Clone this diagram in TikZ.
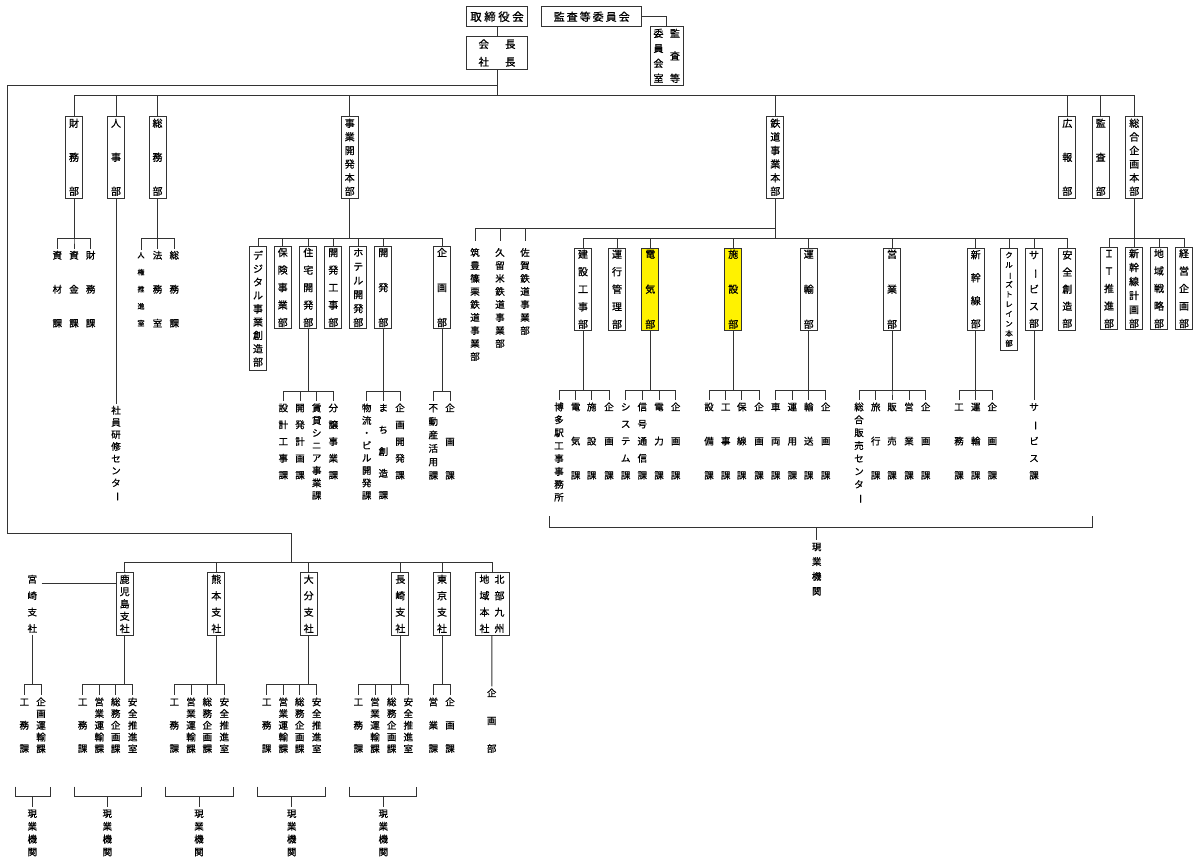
\documentclass[tikz,border=0pt]{standalone}
\usepackage{fontspec}
\setmainfont{Noto Sans CJK JP}[FakeBold=0.8]
\usepackage{graphicx}
\newcommand\vst{\rule[-0.12em]{0pt}{1em}}
\newcommand\VB{\rotatebox[origin=c]{-90}{ー}}
\def\vtloop#1{\ifx#1\relax\else\hbox to 1em{\hss\vst#1\hss}\expandafter\vtloop\fi}
\newcommand\vtx[2]{\vtop{\baselineskip=#1pt\lineskiplimit=-100pt\lineskip=0pt\vtloop#2\relax}}
\newcommand\treeln[3]{\foreach \cc in {#3}{\draw[ln] (#1.south) -- ++(0,#2) -| (\cc.north);}}
\tikzset{
 ln/.style={draw=black!80, line width=1pt},
 bx/.style={draw=black!80, line width=1pt, fill=white, inner sep=0pt, minimum width=17pt, font=\fontsize{10}{12}\selectfont},
 ybx/.style={bx, fill=yellow},
 lab/.style={inner xsep=0pt, inner ysep=1.5pt, anchor=north, font=\fontsize{9.5}{11}\selectfont},
 slab/.style={lab, font=\fontsize{7}{8}\selectfont},
}
\begin{document}
\begin{tikzpicture}[x=1pt,y=-1pt]
\useasboundingbox (0,0) rectangle (1195,857);
\fill[white] (0,0) rectangle (1195,857);
% ---- top
\node[bx, minimum width=60.6pt, minimum height=20pt, font=\fontsize{11.5}{13}\selectfont] (tori) at (497,16.7) {取\kern2.5pt 締\kern2.5pt 役\kern2.5pt 会};
\node[bx, minimum width=60.6pt, minimum height=32.6pt, align=center, font=\fontsize{10.5}{17.7}\selectfont] (kaicho) at (497,53) {会\hspace{16pt}長\\社\hspace{16pt}長};
\node[bx, minimum width=100pt, minimum height=20pt, font=\fontsize{11}{13}\selectfont] (iinkai) at (591.7,16.7) {監\kern2pt 査\kern2pt 等\kern2pt 委\kern2pt 員\kern2pt 会};
\node[bx, minimum width=33.3pt, minimum height=58.3pt] (shitsu) at (666.7,55.85) {\vtx{15}{委員会室}\hspace{6.5pt}\vtx{22.5}{監査等}};
\draw[ln] (tori) -- (kaicho);
\draw[ln] (iinkai.east) -| (shitsu.north);
% ---- level 2
\node[bx, minimum height=82.5pt] (zaimu) at (74,157.25) {\vtx{34}{財務部}};
\node[bx, minimum height=82.5pt] (jinji) at (116,157.25) {\vtx{34}{人事部}};
\node[bx, minimum height=82.5pt] (soumu) at (157.5,157.25) {\vtx{34}{総務部}};
\node[bx, minimum height=82.5pt] (jigyo) at (349.7,157.25) {\vtx{13.6}{事業開発本部}};
\node[bx, minimum height=82.5pt] (tetsu) at (775.3,157.25) {\vtx{13.6}{鉄道事業本部}};
\node[bx, minimum height=82.5pt] (kouhou) at (1067.3,157.25) {\vtx{34}{広報部}};
\node[bx, minimum height=82.5pt] (kansa) at (1100.7,157.25) {\vtx{34}{監査部}};
\node[bx, minimum height=82.5pt] (sougou) at (1134.3,157.25) {\vtx{13.6}{総合企画本部}};
\coordinate (bus) at (497,95);
\draw[ln] (kaicho) -- (bus);
\foreach \n in {zaimu,jinji,soumu,jigyo,tetsu,kouhou,kansa,sougou} \draw[ln] (bus) -| (\n.north);
% big loop to branch offices
\coordinate (loop) at (497,85);
\coordinate (loopc) at (7,533);
\coordinate (shisha) at (291,562);
\draw[ln] (loop) -| (loopc) -| (shisha);
% ---- finance / general affairs / HR
\node[lab] (shizai) at (57.3,248.75) {\vtx{34}{資材課}};
\node[lab] (shikin) at (74,248.75) {\vtx{34}{資金課}};
\node[lab] (zaimuka) at (90.7,248.75) {\vtx{34}{財務課}};
\treeln{zaimu}{39.8}{shizai,shikin,zaimuka}
\node[slab] (jinken) at (141,250) {\vtx{17}{人権推進室}};
\node[lab] (houmu) at (157.5,248.75) {\vtx{34}{法務室}};
\node[lab] (soumuka) at (174.3,248.75) {\vtx{34}{総務課}};
\treeln{soumu}{39.8}{jinken,houmu,soumuka}
\node[lab] (kenshu) at (116,403.75) {\vtx{12.1}{社員研修センタ\VB}};
\draw[ln] (jinji) -- (kenshu);
% ---- business development
\node[bx, minimum height=124pt] (digital) at (258,308.7) {\vtx{13.33}{デジタル事業創造部}};
\node[bx, minimum height=81.6pt] (hoken) at (282.7,287.5) {\vtx{17.5}{保険事業部}};
\node[bx, minimum height=81.6pt] (jutaku) at (308.3,287.5) {\vtx{17.5}{住宅開発部}};
\node[bx, minimum height=81.6pt] (kaikouji) at (333.3,287.5) {\vtx{17.5}{開発工事部}};
\node[bx, minimum height=81.6pt] (hotel) at (358.3,287.5) {\vtx{14}{ホテル開発部}};
\node[bx, minimum height=81.6pt] (kaihatsu) at (383.3,287.5) {\vtx{35}{開発部}};
\node[bx, minimum height=81.6pt] (kikakubu) at (442,287.5) {\vtx{35}{企画部}};
\treeln{jigyo}{39.5}{digital,hoken,jutaku,kaikouji,hotel,kaihatsu,kikakubu}
\node[lab] (sekkei) at (283.3,401.45) {\vtx{16.8}{設計工事課}};
\node[lab] (kkeikaku) at (300,401.45) {\vtx{16.8}{開発計画課}};
\node[lab] (chintai) at (316.7,401.45) {\vtx{12.5}{賃貸シニア事業課}};
\node[lab] (bunjo) at (333.3,401.45) {\vtx{16.8}{分譲事業課}};
\treeln{jutaku}{62.7}{sekkei,kkeikaku,chintai,bunjo}
\node[lab] (butsuryu) at (366.7,401.45) {\vtx{12.5}{物流・ビル開発課}};
\node[lab] (machi) at (383.3,401.45) {\vtx{21.8}{まち創造課}};
\node[lab] (kkaihatsu) at (400,401.45) {\vtx{16.8}{企画開発課}};
\treeln{kaihatsu}{62.7}{butsuryu,machi,kkaihatsu}
\node[lab] (fudosan) at (433.3,401.45) {\vtx{13.5}{不動産活用課}};
\node[lab] (kikakuka1) at (450,401.45) {\vtx{33.7}{企画課}};
\treeln{kikakubu}{62.7}{fudosan,kikakuka1}
% ---- railway
\node[lab, inner ysep=6.5pt] (chikuho) at (475,241) {\vtx{13}{筑豊篠栗鉄道事業部}};
\node[lab, inner ysep=6.5pt] (kurume) at (500,241) {\vtx{13}{久留米鉄道事業部}};
\node[lab, inner ysep=6.5pt] (saga) at (525,241) {\vtx{13}{佐賀鉄道事業部}};
\treeln{tetsu}{29.2}{chikuho,kurume,saga}
\node[bx, minimum height=81.7pt] (kensetsu) at (583,289.15) {\vtx{17.5}{建設工事部}};
\node[bx, minimum height=81.7pt] (unkou) at (617,289.15) {\vtx{17.5}{運行管理部}};
\node[ybx, minimum height=81.7pt] (denki) at (650.3,289.15) {\vtx{35}{電気部}};
\node[ybx, minimum height=81.7pt] (shisetsu) at (733.3,289.15) {\vtx{35}{施設部}};
\node[bx, minimum height=81.7pt] (unyu) at (808.7,289.15) {\vtx{35}{運輸部}};
\node[bx, minimum height=81.7pt] (eigyo) at (892,289.15) {\vtx{35}{営業部}};
\node[bx, minimum height=81.7pt] (shinkan) at (975.7,289.15) {\vtx{23}{新幹線部}};
\node[bx, minimum height=101.7pt, font=\fontsize{7.5}{9}\selectfont] (cruise) at (1009,299.15) {\vtx{9.8}{クル\VB ズトレイン本部}};
\node[bx, minimum height=81.7pt] (service) at (1034,289.15) {\vtx{17.1}{サ\VB ビス部}};
\node[bx, minimum height=81.7pt] (anzen) at (1067.3,289.15) {\vtx{17.1}{安全創造部}};
\treeln{tetsu}{39.2}{kensetsu,unkou,denki,shisetsu,unyu,eigyo,shinkan,cruise,service,anzen}
% railway sections
\node[lab] (hakata) at (559,400.45) {\vtx{12.9}{博多駅工事事務所}};
\node[lab] (denkika) at (575.7,400.45) {\vtx{34.2}{電気課}};
\node[lab] (shisetsuka) at (591.7,400.45) {\vtx{34.2}{施設課}};
\node[lab] (kikakuka2) at (609,400.45) {\vtx{34.2}{企画課}};
\treeln{kensetsu}{60}{hakata,denkika,shisetsuka,kikakuka2}
\node[lab] (system) at (625.7,400.45) {\vtx{17.1}{システム課}};
\node[lab] (shingou) at (642.3,400.45) {\vtx{17.1}{信号通信課}};
\node[lab] (denryoku) at (659,400.45) {\vtx{34.2}{電力課}};
\node[lab] (kikakuka3) at (675.7,400.45) {\vtx{34.2}{企画課}};
\treeln{denki}{60}{system,shingou,denryoku,kikakuka3}
\node[lab] (setsubi) at (709,400.45) {\vtx{34.2}{設備課}};
\node[lab] (koujika) at (725.7,400.45) {\vtx{34.2}{工事課}};
\node[lab] (hosen) at (741.7,400.45) {\vtx{34.2}{保線課}};
\node[lab] (kikakuka4) at (759,400.45) {\vtx{34.2}{企画課}};
\treeln{shisetsu}{60}{setsubi,koujika,hosen,kikakuka4}
\node[lab] (sharyo) at (775.7,400.45) {\vtx{34.2}{車両課}};
\node[lab] (unyo) at (792.3,400.45) {\vtx{34.2}{運用課}};
\node[lab] (yuso) at (808.7,400.45) {\vtx{34.2}{輸送課}};
\node[lab] (kikakuka5) at (825.7,400.45) {\vtx{34.2}{企画課}};
\treeln{unyu}{60}{sharyo,unyo,yuso,kikakuka5}
\node[lab] (hanbaic) at (859,400.45) {\vtx{12.9}{総合販売センタ\VB}};
\node[lab] (ryoko) at (875.7,400.45) {\vtx{34.2}{旅行課}};
\node[lab] (hanbai) at (892,400.45) {\vtx{34.2}{販売課}};
\node[lab] (eigyoka) at (909,400.45) {\vtx{34.2}{営業課}};
\node[lab] (kikakuka6) at (925.7,400.45) {\vtx{34.2}{企画課}};
\treeln{eigyo}{60}{hanbaic,ryoko,hanbai,eigyoka,kikakuka6}
\node[lab] (koumu) at (959,400.45) {\vtx{34.2}{工務課}};
\node[lab] (unyuka) at (975.7,400.45) {\vtx{34.2}{運輸課}};
\node[lab] (kikakuka7) at (992.3,400.45) {\vtx{34.2}{企画課}};
\treeln{shinkan}{60}{koumu,unyuka,kikakuka7}
\node[lab] (serviceka) at (1034,400.45) {\vtx{17.1}{サ\VB ビス課}};
\draw[ln] (service) -- (serviceka);
% railway field bracket
\draw[ln] (549,516) -- (549,527) -- (1092,527) -- (1092,516);
\coordinate (gb0) at (816.7,527);
\node[lab] (genba0) at (816.7,540.35) {\vtx{14.8}{現業機関}};
\draw[ln] (gb0) -- (genba0);
% ---- corporate planning
\node[bx, minimum height=81.6pt] (it) at (1109,288.5) {\vtx{17.5}{ＩＴ推進部}};
\node[bx, minimum height=81.6pt] (shkeikaku) at (1134,288.5) {\vtx{14}{新幹線計画部}};
\node[bx, minimum height=81.6pt] (chiiki) at (1159,288.5) {\vtx{17.5}{地域戦略部}};
\node[bx, minimum height=81.6pt] (keiei) at (1184,288.5) {\vtx{17.5}{経営企画部}};
\treeln{sougou}{39.2}{it,shkeikaku,chiiki,keiei}
% ---- branch offices
\node[bx, minimum height=62.3pt] (kagoshima) at (124.7,603.85) {\vtx{12.3}{鹿児島支社}};
\node[bx, minimum height=62.3pt] (kumamoto) at (216.3,603.85) {\vtx{16.4}{熊本支社}};
\node[bx, minimum height=62.3pt] (oita) at (308.7,603.85) {\vtx{16.4}{大分支社}};
\node[bx, minimum height=62.3pt] (nagasaki) at (400.3,603.85) {\vtx{16.4}{長崎支社}};
\node[bx, minimum height=62.3pt] (tokyo) at (442,603.85) {\vtx{16.4}{東京支社}};
\node[bx, minimum height=62.3pt, minimum width=34pt] (kita) at (492,603.85) {\vtx{16.4}{地域本社}\hspace{5pt}\vtx{16.4}{北部九州}};
\foreach \n in {kagoshima,kumamoto,oita,nagasaki,tokyo,kita} \draw[ln] (shisha) -| (\n.north);
\node[lab] (miyazaki) at (32.3,572.75) {\vtx{16.4}{宮崎支社}};
\coordinate (mz) at (41.7,583.3);
\draw[ln] (mz) -- (mz -| kagoshima.west);
% sections
\node[lab] (m1) at (24.3,695.45) {\vtx{23.3}{工務課}};
\node[lab] (m2) at (41,695.45) {\vtx{11.7}{企画運輸課}};
\treeln{miyazaki}{49.5}{m1,m2}
\node[lab] (k1) at (82.7,695.45) {\vtx{23.3}{工務課}};
\node[lab] (k2) at (99.3,695.45) {\vtx{11.7}{営業運輸課}};
\node[lab] (k3) at (115.7,695.45) {\vtx{11.7}{総務企画課}};
\node[lab] (k4) at (132.7,695.45) {\vtx{11.7}{安全推進室}};
\treeln{kagoshima}{49.3}{k1,k2,k3,k4}
\node[lab] (ku1) at (174.3,695.45) {\vtx{23.3}{工務課}};
\node[lab] (ku2) at (191,695.45) {\vtx{11.7}{営業運輸課}};
\node[lab] (ku3) at (207.3,695.45) {\vtx{11.7}{総務企画課}};
\node[lab] (ku4) at (224.3,695.45) {\vtx{11.7}{安全推進室}};
\treeln{kumamoto}{49.3}{ku1,ku2,ku3,ku4}
\node[lab] (o1) at (266.7,695.45) {\vtx{23.3}{工務課}};
\node[lab] (o2) at (283.3,695.45) {\vtx{11.7}{営業運輸課}};
\node[lab] (o3) at (299.7,695.45) {\vtx{11.7}{総務企画課}};
\node[lab] (o4) at (316.7,695.45) {\vtx{11.7}{安全推進室}};
\treeln{oita}{49.3}{o1,o2,o3,o4}
\node[lab] (n1) at (358.3,695.45) {\vtx{23.3}{工務課}};
\node[lab] (n2) at (375,695.45) {\vtx{11.7}{営業運輸課}};
\node[lab] (n3) at (391.7,695.45) {\vtx{11.7}{総務企画課}};
\node[lab] (n4) at (408.3,695.45) {\vtx{11.7}{安全推進室}};
\treeln{nagasaki}{49.3}{n1,n2,n3,n4}
\node[lab] (t1) at (433.3,695.45) {\vtx{23.3}{営業課}};
\node[lab] (t2) at (450,695.45) {\vtx{23.3}{企画課}};
\treeln{tokyo}{49.3}{t1,t2}
\node[lab] (kk) at (491.7,686.45) {\vtx{27.8}{企画部}};
\draw[ln] (kita) -- (kk);
% field brackets
\foreach \a/\b/\c/\n in {15.7/50/32.3/g1, 74/141.7/107.3/g2, 165.7/233.3/199/g3, 257.3/325.7/291.7/g4, 349.3/416.7/383.3/g5}{
 \draw[ln] (\a,786.7) -- (\a,796.7) -- (\b,796.7) -- (\b,786.7);
 \coordinate (\n c) at (\c,796.7);
 \node[lab] (\n) at (\c,807.05) {\vtx{12.8}{現業機関}};
 \draw[ln] (\n c) -- (\n);
}
\end{tikzpicture}
\end{document}
